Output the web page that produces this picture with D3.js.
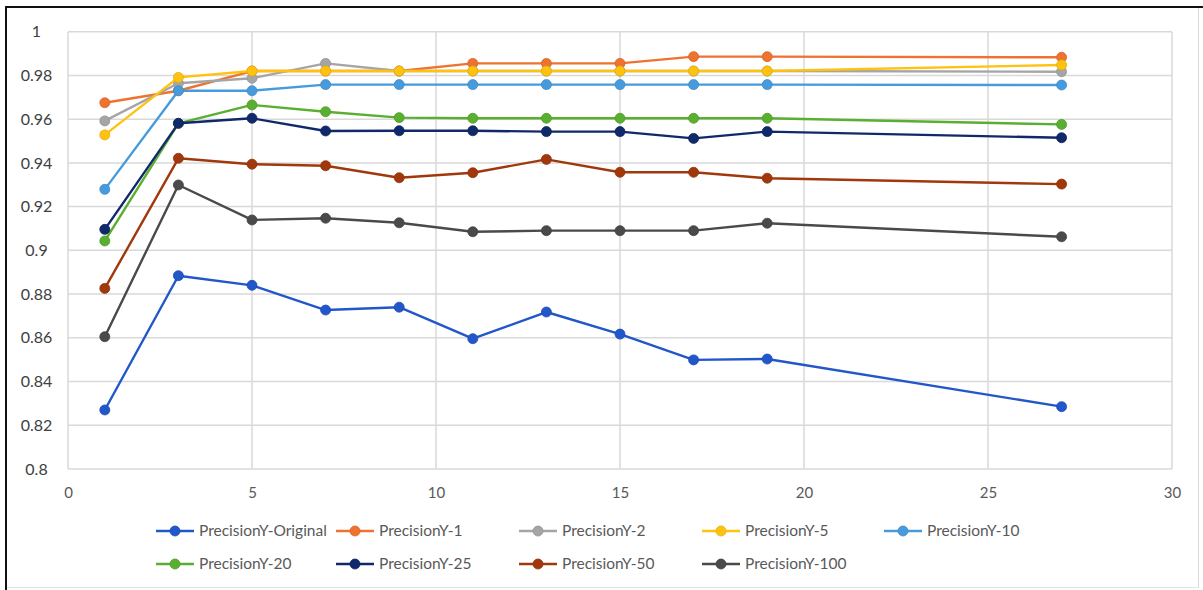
<!DOCTYPE html>
<html>
<head>
<meta charset="utf-8">
<script src="https://cdn.jsdelivr.net/npm/d3@7"></script>
<style>
  html, body { margin: 0; padding: 0; background: #fff; }
  svg { display: block; }
</style>
</head>
<body>
<svg id="chart" width="1203" height="590"></svg>
<script>
// Window sizes (x values) shared by every series
const windowSizes = [1, 3, 5, 7, 9, 11, 13, 15, 17, 19, 27];

const precisionOriginal = [0.827, 0.8884, 0.884, 0.8727, 0.874, 0.8596, 0.8718, 0.8617, 0.8499, 0.8503, 0.8285];
const precision1   = [0.9675, 0.973, 0.982, 0.982, 0.982, 0.9855, 0.9855, 0.9855, 0.9886, 0.9886, 0.9883];
const precision2   = [0.9592, 0.9764, 0.9787, 0.9855, 0.982, 0.982, 0.982, 0.982, 0.982, 0.982, 0.9817];
const precision5   = [0.9528, 0.9791, 0.982, 0.982, 0.982, 0.982, 0.982, 0.982, 0.982, 0.982, 0.9848];
const precision10  = [0.9279, 0.973, 0.973, 0.9758, 0.9758, 0.9758, 0.9758, 0.9758, 0.9758, 0.9758, 0.9756];
const precision20  = [0.9043, 0.9581, 0.9665, 0.9634, 0.9607, 0.9604, 0.9604, 0.9604, 0.9604, 0.9604, 0.9576];
const precision25  = [0.9096, 0.9581, 0.9604, 0.9546, 0.9547, 0.9547, 0.9543, 0.9543, 0.9512, 0.9543, 0.9515];
const precision50  = [0.8826, 0.9421, 0.9394, 0.9387, 0.9332, 0.9355, 0.9416, 0.9357, 0.9357, 0.933, 0.9303];
const precision100 = [0.8605, 0.9299, 0.9139, 0.9147, 0.9126, 0.9085, 0.909, 0.909, 0.909, 0.9124, 0.9062];

const seriesNames = ["PrecisionY-Original", "PrecisionY-1", "PrecisionY-2", "PrecisionY-5", "PrecisionY-10",
                     "PrecisionY-20", "PrecisionY-25", "PrecisionY-50", "PrecisionY-100"];
const seriesValues = [precisionOriginal, precision1, precision2, precision5, precision10,
                      precision20, precision25, precision50, precision100];
const seriesColors = ["#2157C9", "#EE7330", "#A5A5A5", "#FFC20E", "#479BDD",
                      "#5AAE30", "#10296A", "#A1380C", "#4A4A4A"];

const xTicks = [0, 5, 10, 15, 20, 25, 30];
const yTicks = [0.8, 0.82, 0.84, 0.86, 0.88, 0.9, 0.92, 0.94, 0.96, 0.98, 1];

const svg = d3.select("#chart");
const font = "Lato, 'Open Sans', sans-serif";

// Outer frame: dark on the left and top, light on the right and bottom
svg.append("line").attr("x1", 6).attr("x2", 6).attr("y1", 6).attr("y2", 590)
  .attr("stroke", "#111").attr("stroke-width", 2);
svg.append("line").attr("x1", 5).attr("x2", 1203).attr("y1", 7).attr("y2", 7)
  .attr("stroke", "#111").attr("stroke-width", 2);
svg.append("line").attr("x1", 1198.5).attr("x2", 1198.5).attr("y1", 8).attr("y2", 588)
  .attr("stroke", "#d9d9d9").attr("stroke-width", 1);
svg.append("line").attr("x1", 7).attr("x2", 1199).attr("y1", 587.5).attr("y2", 587.5)
  .attr("stroke", "#e3e3e3").attr("stroke-width", 1);

const plot = { left: 68, right: 1172, top: 31.7, bottom: 469 };

const x = d3.scaleLinear().domain([0, 30]).range([plot.left, plot.right]);
const y = d3.scaleLinear().domain([0.8, 1]).range([plot.bottom, plot.top]);

// Grid lines
const grid = svg.append("g");
grid.selectAll(".hg").data(yTicks).join("line")
  .attr("x1", plot.left).attr("x2", plot.right)
  .attr("y1", d => y(d)).attr("y2", d => y(d))
  .attr("stroke", "#d9d9d9").attr("stroke-width", 1.5);
grid.selectAll(".vg").data(xTicks).join("line")
  .attr("x1", d => x(d)).attr("x2", d => x(d))
  .attr("y1", plot.top).attr("y2", plot.bottom)
  .attr("stroke", "#d9d9d9").attr("stroke-width", 1.5);

// Axes (labels only; domain and tick marks hidden)
const yAxis = svg.append("g").attr("transform", `translate(${plot.left},0)`)
  .call(d3.axisLeft(y).tickValues(yTicks).tickSize(0).tickFormat(d3.format("~g")));
yAxis.select(".domain").remove();
yAxis.selectAll("text")
  .attr("x", 36.5 - plot.left).attr("text-anchor", "middle")
  .attr("font-family", font).attr("font-size", 16).attr("fill", "#404040");

const xAxis = svg.append("g").attr("transform", `translate(0,${plot.bottom})`)
  .call(d3.axisBottom(x).tickValues(xTicks).tickSize(0).tickFormat(d3.format("d")));
xAxis.select(".domain").remove();
xAxis.selectAll("text")
  .attr("y", 18)
  .attr("font-family", font).attr("font-size", 15).attr("fill", "#595959");

// Series lines and markers
const line = d3.line().x(d => x(d[0])).y(d => y(d[1]));
seriesValues.forEach((vals, i) => {
  const pts = windowSizes.map((w, j) => [w, vals[j]]);
  const g = svg.append("g");
  g.append("path").datum(pts)
    .attr("d", line).attr("fill", "none")
    .attr("stroke", seriesColors[i]).attr("stroke-width", 2.4)
    .attr("stroke-linejoin", "round");
  g.selectAll("circle").data(pts).join("circle")
    .attr("cx", d => x(d[0])).attr("cy", d => y(d[1])).attr("r", 5)
    .attr("fill", seriesColors[i])
    .attr("stroke", d3.color(seriesColors[i]).darker(0.3)).attr("stroke-width", 0.8);
});

// Legend: two rows of entries; each text sits just after its line sample
const legendRows = [[0, 1, 2, 3, 4], [5, 6, 7, 8]];
const legendTextX = [[199, 379, 562, 745, 927], [199, 379, 562, 745]];
const legendY = [531, 564];
legendRows.forEach((row, r) => {
  row.forEach((si, c) => {
    const tx = legendTextX[r][c];
    const g = svg.append("g").attr("transform", `translate(${tx - 43},${legendY[r]})`);
    g.append("line").attr("x1", 0).attr("x2", 38).attr("y1", 0).attr("y2", 0)
      .attr("stroke", seriesColors[si]).attr("stroke-width", 2.4);
    g.append("circle").attr("cx", 19).attr("cy", 0).attr("r", 5)
      .attr("fill", seriesColors[si])
      .attr("stroke", d3.color(seriesColors[si]).darker(0.3)).attr("stroke-width", 0.8);
    g.append("text").attr("x", 43).attr("y", 0).attr("dy", "0.35em")
      .attr("font-family", font).attr("font-size", 15.5).attr("fill", "#595959")
      .text(seriesNames[si]);
  });
});
</script>
</body>
</html>
